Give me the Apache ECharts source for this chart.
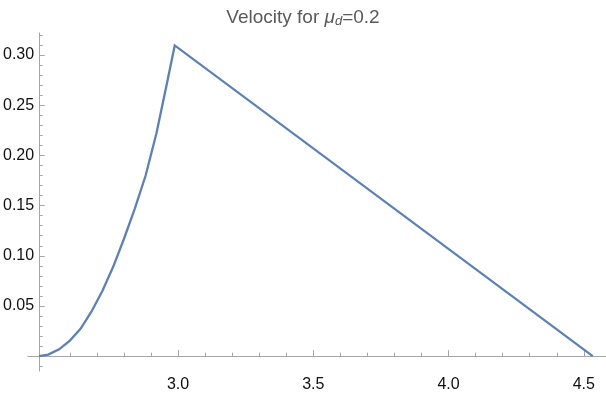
<!DOCTYPE html>
<html>
<head>
<meta charset="utf-8">
<script src="https://cdn.jsdelivr.net/npm/echarts@6/dist/echarts.min.js"></script>
<style>
html,body{margin:0;padding:0;background:#fff;}
#chart{width:606px;height:393px;}
</style>
</head>
<body>
<div id="chart"></div>
<script>
// Data
var timeValues = [2.486, 2.52, 2.56, 2.60, 2.64, 2.68, 2.72, 2.76, 2.80, 2.84, 2.88, 2.92, 2.96, 2.9875, 4.533];
var velocityValues = [0, 0.0015, 0.0068, 0.0155, 0.0275, 0.0445, 0.0650, 0.0890, 0.1170, 0.1470, 0.1800, 0.2220, 0.2735, 0.3096, 0];
var xMajorTicks = [3.0, 3.5, 4.0, 4.5];
var xMinorTicks = [2.6, 2.7, 2.8, 2.9, 3.1, 3.2, 3.3, 3.4, 3.6, 3.7, 3.8, 3.9, 4.1, 4.2, 4.3, 4.4];
var yMajorTicks = [0.05, 0.10, 0.15, 0.20, 0.25, 0.30];
var yMinorTicks = [-0.01, 0.01, 0.02, 0.03, 0.04, 0.06, 0.07, 0.08, 0.09, 0.11, 0.12, 0.13, 0.14, 0.16, 0.17, 0.18, 0.19, 0.21, 0.22, 0.23, 0.24, 0.26, 0.27, 0.28, 0.29, 0.31, 0.32];

var xMin = 2.4445, xMax = 4.582;
var yMin = -0.0148, yMax = 0.322;

var pts = timeValues.map(function (t, i) { return [t, velocityValues[i]]; });

var axisColor = '#a6a6a6';
var fontFam = 'Liberation Sans, Arial, sans-serif';
var labelFont = { color: '#111', fontSize: 16, fontFamily: fontFam };

var chart = echarts.init(document.getElementById('chart'), null, { renderer: 'canvas' });
chart.setOption({
  animation: false,
  backgroundColor: '#fff',
  title: {
    left: 'center',
    top: 2,
    text: '{a|Velocity for }{m|μ}{s|d}{a|=0.2}',
    textStyle: {
      fontWeight: 'normal',
      rich: {
        a: { fontSize: 19, color: '#5a5a5a', fontWeight: 'normal', fontFamily: fontFam },
        m: { fontSize: 19, color: '#5a5a5a', fontWeight: 'normal', fontStyle: 'italic', fontFamily: fontFam },
        s: { fontSize: 13, color: '#5a5a5a', fontWeight: 'normal', fontStyle: 'italic', verticalAlign: 'bottom', padding: [8, 0, 0, 0], fontFamily: fontFam }
      }
    }
  },
  grid: { left: 26, right: 0, top: 33, bottom: 11, containLabel: false },
  xAxis: [
    {
      type: 'value', position: 'bottom', min: xMin, max: xMax,
      axisLine: { show: true, onZero: true, lineStyle: { color: axisColor, width: 1 } },
      axisTick: { show: true, inside: true, length: 6, customValues: xMajorTicks, lineStyle: { color: axisColor } },
      axisLabel: Object.assign({ show: true, margin: 6, customValues: xMajorTicks,
        formatter: function (v) { return v.toFixed(1); } }, labelFont),
      splitLine: { show: false }
    },
    {
      type: 'value', position: 'bottom', min: xMin, max: xMax,
      axisLine: { show: false, onZero: true },
      axisTick: { show: true, inside: true, length: 3.5, customValues: xMinorTicks, lineStyle: { color: axisColor } },
      axisLabel: { show: false },
      splitLine: { show: false }
    }
  ],
  yAxis: [
    {
      type: 'value', position: 'left', offset: -11.3, min: yMin, max: yMax,
      axisLine: { show: true, onZero: false, lineStyle: { color: axisColor, width: 1 } },
      axisTick: { show: true, inside: true, length: 5.5, customValues: yMajorTicks, lineStyle: { color: axisColor } },
      axisLabel: Object.assign({ show: true, margin: 5, customValues: yMajorTicks,
        formatter: function (v) { return v.toFixed(2); } }, labelFont),
      splitLine: { show: false }
    },
    {
      type: 'value', position: 'left', offset: -11.3, min: yMin, max: yMax,
      axisLine: { show: false, onZero: false },
      axisTick: { show: true, inside: true, length: 3.5, customValues: yMinorTicks, lineStyle: { color: axisColor } },
      axisLabel: { show: false },
      splitLine: { show: false }
    }
  ],
  series: [{
    type: 'line',
    xAxisIndex: 0,
    yAxisIndex: 0,
    data: pts,
    showSymbol: false,
    symbol: 'none',
    smooth: false,
    lineStyle: { color: '#5e81b5', width: 2.3, join: 'miter' },
    clip: false
  }]
});
</script>
</body>
</html>
